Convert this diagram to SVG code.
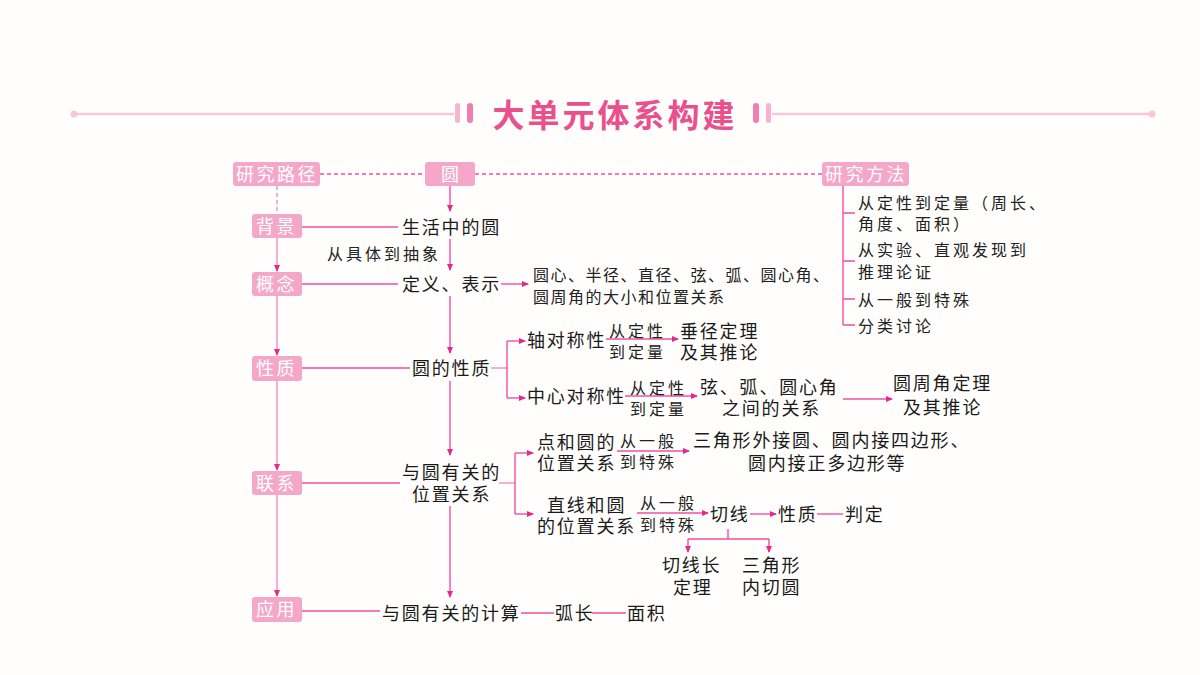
<svg xmlns="http://www.w3.org/2000/svg" width="1200" height="675" viewBox="0 0 1200 675">
<defs>
<style>
.bg{fill:#fffefd}
.box rect{fill:#f4a7c9}
.box text{fill:#ffffff;font-family:"Noto Sans CJK SC",sans-serif;font-size:18px;letter-spacing:2.5px}
.t{fill:#1a1a1a;font-family:"Noto Sans CJK SC",sans-serif;font-size:18px;letter-spacing:1.8px}
.k{fill:#222;font-family:"Noto Sans CJK SC",sans-serif;font-size:16px;letter-spacing:3px}
.ks{fill:#222;font-family:"Noto Sans CJK SC",sans-serif;font-size:16px;letter-spacing:1.5px}
.c{fill:none;stroke:#ee4fa0;stroke-width:1.4}
.cl{fill:none;stroke:#f39bc8;stroke-width:1.6}
.d{fill:none;stroke:#ee4fa0;stroke-width:1.4;stroke-dasharray:4 3}
.dl{fill:none;stroke:#f39bc8;stroke-width:1.6;stroke-dasharray:4 3}
.a{marker-end:url(#ah)}
</style>
<marker id="ah" markerWidth="7" markerHeight="6" refX="6" refY="3" orient="auto" markerUnits="userSpaceOnUse">
<path d="M0,0 L7,3 L0,6 Z" fill="#e8268e"/>
</marker>
</defs>
<rect class="bg" x="0" y="0" width="1200" height="675"/>

<g id="title">
<line x1="74" y1="114" x2="454" y2="114" stroke="#f9c6da" stroke-width="2.5"/>
<circle cx="74" cy="114" r="3.5" fill="#f9c6da"/>
<rect x="455" y="103" width="5" height="20" rx="2.5" fill="#f8b3cf"/>
<rect x="467" y="103" width="6" height="20" rx="3" fill="#ef7fae"/>
<text x="615" y="127" text-anchor="middle" font-family="Noto Sans CJK SC,sans-serif" font-size="32" font-weight="bold" fill="#e9508c" letter-spacing="3">大单元体系构建</text>
<rect x="753" y="103" width="6" height="20" rx="3" fill="#ef7fae"/>
<rect x="766" y="103" width="5" height="20" rx="2.5" fill="#f8b3cf"/>
<line x1="772" y1="114" x2="1152" y2="114" stroke="#f9c6da" stroke-width="2.5"/>
<circle cx="1152" cy="114" r="3.5" fill="#f9c6da"/>
</g>

<g id="connectors">
<path class="d" d="M320 174 H425 M475 174 H822"/>
<path class="dl" d="M277 186 V214"/>
<path class="cl a" d="M277 238 V271"/>
<path class="cl a" d="M277 296 V355"/>
<path class="cl a" d="M277 381 V470"/>
<path class="cl a" d="M277 495 V596"/>
<path class="c a" d="M450 186 V211"/>
<path class="c a" d="M450 239 V270"/>
<path class="c a" d="M450 296 V353"/>
<path class="c a" d="M450 381 V455"/>
<path class="c a" d="M450 506 V597"/>
<path class="c" d="M302 227 H398 M302 284 H398 M302 368 H410 M302 483 H400 M302 611 H380"/>
<path class="c a" d="M501 284 H528"/>
<path class="c" d="M843 186 V325 M843 213 H855 M843 261 H855 M843 299 H855 M843 325 H855"/>
<path class="cl" d="M491 368 H507"/>
<path class="c" d="M507 341 V398"/>
<path class="c a" d="M507 341 H525"/>
<path class="c a" d="M507 398 H525"/>
<path class="c a" d="M606 339 H678"/>
<path class="c a" d="M625 396 H697"/>
<path class="c a" d="M843 399 H892"/>
<path class="cl" d="M499 483 H515"/>
<path class="c" d="M515 453 V514"/>
<path class="c a" d="M515 453 H533"/>
<path class="c a" d="M515 514 H533"/>
<path class="c a" d="M617 451 H689"/>
<path class="c a" d="M637 513 H708"/>
<path class="c a" d="M750 514 H776"/>
<path class="c" d="M817 514 H843"/>
<path class="c" d="M728 529 V539 M688 539 H769"/>
<path class="c a" d="M688 539 V552"/>
<path class="c a" d="M769 539 V552"/>
<path class="c" d="M521 613 H554 M592 613 H626"/>
</g>

<g id="n-yanjiulujing" class="box"><rect x="233" y="162" width="87" height="24" rx="3"/><text x="236" y="181">研究路径</text></g>
<g id="n-yuan" class="box"><rect x="425" y="162" width="50" height="24" rx="3"/><text x="441" y="181">圆</text></g>
<g id="n-yanjiufangfa" class="box"><rect x="822" y="162" width="87" height="24" rx="3"/><text x="825" y="181">研究方法</text></g>
<g id="n-beijing" class="box"><rect x="252" y="214" width="50" height="24" rx="3"/><text x="256" y="233">背景</text></g>
<g id="n-gainian" class="box"><rect x="252" y="272" width="50" height="24" rx="3"/><text x="256" y="291">概念</text></g>
<g id="n-xingzhi" class="box"><rect x="252" y="356" width="50" height="25" rx="3"/><text x="256" y="375">性质</text></g>
<g id="n-lianxi" class="box"><rect x="252" y="471" width="50" height="24" rx="3"/><text x="256" y="490">联系</text></g>
<g id="n-yingyong" class="box"><rect x="252" y="597" width="50" height="25" rx="3"/><text x="256" y="616">应用</text></g>

<g id="n-shenghuo"><text class="t" x="402" y="234">生活中的圆</text></g>
<g id="n-congjuti"><text class="k" x="327" y="260">从具体到抽象</text></g>
<g id="n-dingyi"><text class="t" x="402" y="291">定义、表示</text></g>
<g id="n-gainianlist"><text class="ks" x="533" y="281">圆心、半径、直径、弦、弧、圆心角、</text><text class="ks" x="533" y="303">圆周角的大小和位置关系</text></g>
<g id="n-fangfa">
<text class="k" x="858" y="209">从定性到定量（周长、</text>
<text class="k" x="858" y="230">角度、面积）</text>
<text class="k" x="858" y="256">从实验、直观发现到</text>
<text class="k" x="858" y="278">推理论证</text>
<text class="k" x="858" y="306">从一般到特殊</text>
<text class="k" x="858" y="332">分类讨论</text>
</g>
<g id="n-yuandexingzhi"><text class="t" x="412" y="375">圆的性质</text></g>
<g id="n-zhouduichen"><text class="t" x="527" y="347">轴对称性</text></g>
<g id="n-lbl1"><text class="k" x="609" y="337">从定性</text><text class="k" x="609" y="358">到定量</text></g>
<g id="n-chuijing"><text class="t" x="680" y="338">垂径定理</text><text class="t" x="680" y="359">及其推论</text></g>
<g id="n-zhongxin"><text class="t" x="527" y="403">中心对称性</text></g>
<g id="n-lbl2"><text class="k" x="630" y="394">从定性</text><text class="k" x="630" y="415">到定量</text></g>
<g id="n-xianhu"><text class="t" x="700" y="394">弦、弧、圆心角</text><text class="t" x="722" y="415">之间的关系</text></g>
<g id="n-yuanzhoujiao"><text class="t" x="893" y="390">圆周角定理</text><text class="t" x="903" y="414">及其推论</text></g>
<g id="n-weizhi"><text class="t" x="402" y="479">与圆有关的</text><text class="t" x="412" y="501">位置关系</text></g>
<g id="n-dianheyuan"><text class="t" x="537" y="449">点和圆的</text><text class="t" x="537" y="470">位置关系</text></g>
<g id="n-lbl3"><text class="k" x="620" y="447">从一般</text><text class="k" x="620" y="468">到特殊</text></g>
<g id="n-sanjiao"><text class="t" x="693" y="447">三角形外接圆、圆内接四边形、</text><text class="t" x="748" y="470">圆内接正多边形等</text></g>
<g id="n-zhixian"><text class="t" x="547" y="512">直线和圆</text><text class="t" x="537" y="533">的位置关系</text></g>
<g id="n-lbl4"><text class="k" x="640" y="509">从一般</text><text class="k" x="640" y="531">到特殊</text></g>
<g id="n-qiexian"><text class="t" x="710" y="521">切线</text></g>
<g id="n-xingzhi2"><text class="t" x="778" y="521">性质</text></g>
<g id="n-panding"><text class="t" x="845" y="521">判定</text></g>
<g id="n-qiexianchang"><text class="t" x="662" y="572">切线长</text><text class="t" x="673" y="594">定理</text></g>
<g id="n-neiqie"><text class="t" x="742" y="572">三角形</text><text class="t" x="742" y="594">内切圆</text></g>
<g id="n-jisuan"><text class="t" x="382" y="620">与圆有关的计算</text></g>
<g id="n-huchang"><text class="t" x="555" y="620">弧长</text></g>
<g id="n-mianji"><text class="t" x="627" y="620">面积</text></g>
</svg>
